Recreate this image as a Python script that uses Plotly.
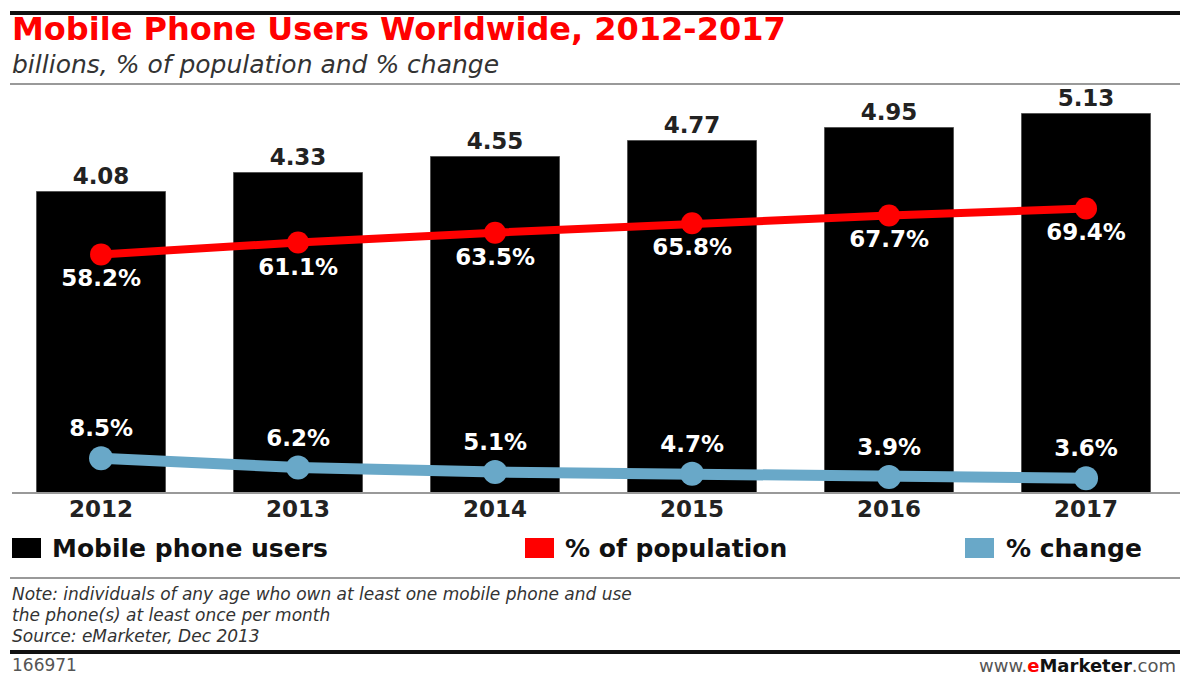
import plotly.graph_objects as go

# ---- data ----
years = ["2012", "2013", "2014", "2015", "2016", "2017"]
users_bn = [4.08, 4.33, 4.55, 4.77, 4.95, 5.13]
pop_pct = [58.2, 61.1, 63.5, 65.8, 67.7, 69.4]
chg_pct = [8.5, 6.2, 5.1, 4.7, 3.9, 3.6]

title = "Mobile Phone Users Worldwide, 2012-2017"
subtitle = "billions, % of population and % change"
legend_items = ["Mobile phone users", "% of population", "% change"]
note_lines = [
    "Note: individuals of any age who own at least one mobile phone and use",
    "the phone(s) at least once per month",
    "Source: eMarketer, Dec 2013",
]
footer_id = "166971"

# ---- layout geometry (pixels) ----
W, H = 1180, 675
PLOT_TOP, PLOT_BOT = 90, 493
PH = PLOT_BOT - PLOT_TOP

BLACK = "#000000"
RED = "#ff0000"
BLUE = "#69a8c8"
FONT = "DejaVu Sans"


def px(x):
    return x / W


def py(y):
    return (PLOT_BOT - y) / PH


xs = list(range(len(years)))

fig = go.Figure()
fig.add_bar(
    x=xs, y=users_bn, width=0.655,
    marker=dict(color=BLACK, line=dict(color="#555", width=1)),
    text=[f"{v:.2f}" for v in users_bn], textposition="outside",
    textfont=dict(family=FONT, size=23, color="#222", weight="bold"),
    cliponaxis=False, showlegend=False, hoverinfo="skip",
)
fig.add_scatter(
    x=xs, y=pop_pct, yaxis="y2", mode="lines+markers+text",
    line=dict(color=RED, width=8), marker=dict(size=22, color=RED),
    text=[f"{v:.1f}%" for v in pop_pct], textposition="bottom center",
    textfont=dict(family=FONT, size=23, color="white", weight="bold"),
    cliponaxis=False, showlegend=False, hoverinfo="skip",
)
fig.add_scatter(
    x=xs, y=chg_pct, yaxis="y2", mode="lines+markers+text",
    line=dict(color=BLUE, width=11), marker=dict(size=24, color=BLUE),
    text=[f"{v:.1f}%" for v in chg_pct], textposition="top center",
    textfont=dict(family=FONT, size=23, color="white", weight="bold"),
    cliponaxis=False, showlegend=False, hoverinfo="skip",
)

annotations = []


def ann(text, x, y, size, color="#222", xanchor="left", weight="normal", style="normal", family=FONT):
    annotations.append(dict(
        text=text, x=px(x), y=py(y), xref="paper", yref="paper",
        xanchor=xanchor, yanchor="middle", showarrow=False,
        font=dict(family=family, size=size, color=color, weight=weight, style=style),
    ))


ann(title, 10, 29, 32, RED, weight="bold")
ann(subtitle, 10, 64, 25, "#333", style="italic")

# legend
leg_x_sq = [12, 525, 965]
leg_x_tx = [50, 563, 1004]
leg_cols = [BLACK, RED, BLUE]
shapes = []
for sx, tx, c, lab in zip(leg_x_sq, leg_x_tx, leg_cols, legend_items):
    shapes.append(dict(type="rect", xref="paper", yref="paper",
                       x0=px(sx), x1=px(sx + 29), y0=py(558), y1=py(538),
                       fillcolor=c, line=dict(width=0)))
    ann(lab, tx, 548, 25, "#111", weight="bold")

for ly, line in zip([594, 615, 636], note_lines):
    ann(line, 10, ly, 17, "#333", style="italic")

ann(footer_id, 10, 665, 17, "#555")
ann("<span style='color:#555'>www.</span><b><span style='color:#ff0000'>e</span>Marketer</b>"
    "<span style='color:#555'>.com</span>", 1178, 665, 18, "#111", xanchor="right")

# rules
def hline(y, x0, x1, color, width):
    shapes.append(dict(type="line", xref="paper", yref="paper",
                       x0=px(x0), x1=px(x1), y0=py(y), y1=py(y),
                       line=dict(color=color, width=width)))


hline(13, 10, 1180, "#111", 4)
hline(84, 10, 1180, "#999", 2)
hline(493, 12, 1180, "#999", 2)
hline(578, 10, 1180, "#999", 2)
hline(652, 10, 1180, "#111", 4)

fig.update_layout(
    width=W, height=H,
    margin=dict(l=0, r=0, t=PLOT_TOP, b=H - PLOT_BOT),
    paper_bgcolor="white", plot_bgcolor="white",
    xaxis=dict(range=[-0.513, 5.477], tickvals=xs, ticktext=years,
               showgrid=False, zeroline=False, showline=False, ticks="",
               tickfont=dict(family=FONT, size=23, color="#222", weight="bold"),
               fixedrange=True),
    yaxis=dict(range=[0, 5.46], visible=False, fixedrange=True),
    yaxis2=dict(range=[0, 98.3], overlaying="y", visible=False, fixedrange=True),
    annotations=annotations, shapes=shapes,
    showlegend=False, bargap=0,
)

fig.write_html("out.html", config={"displayModeBar": False})
